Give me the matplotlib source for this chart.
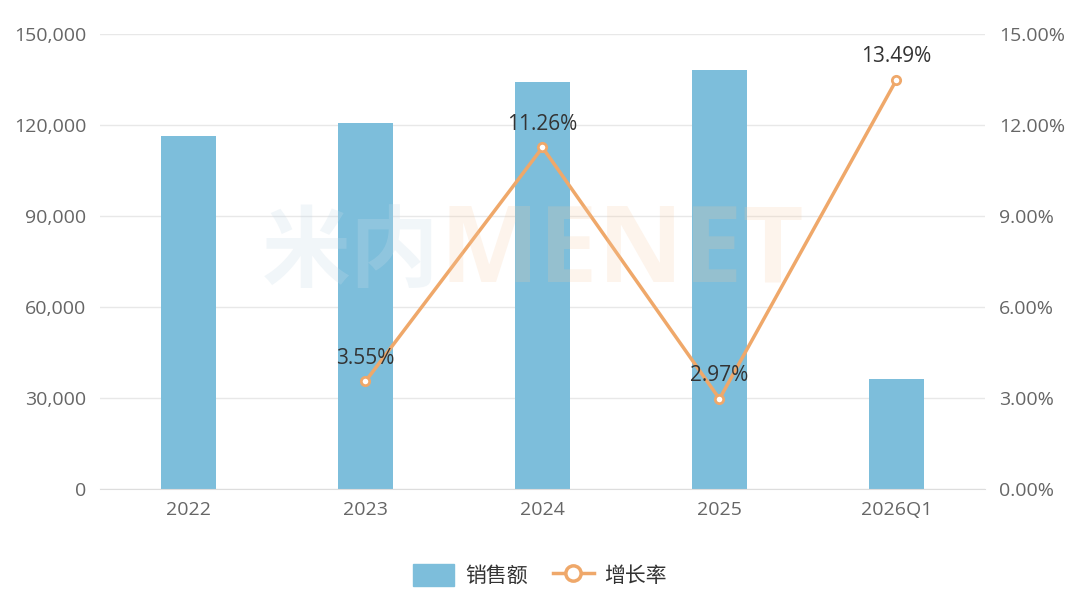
import numpy as np
import matplotlib.pyplot as plt
from matplotlib.lines import Line2D
from matplotlib.patches import Patch
from matplotlib.ticker import FuncFormatter

plt.rcParams['font.family'] = ['Open Sans', 'Noto Sans CJK SC', 'DejaVu Sans']

# data
categories = ['2022', '2023', '2024', '2025', '2026Q1']
sales = [116400, 120600, 134200, 138200, 36200]
growth = [None, 3.55, 11.26, 2.97, 13.49]

bar_color = '#7DBEDB'
line_color = '#EFA86A'
tick_color = '#666666'
grid_color = '#E8E8E8'

fig = plt.figure(figsize=(10.8, 6.01), dpi=100)
ax = fig.add_axes([0.0926, 0.1864, 0.8194, 0.757])
ax2 = ax.twinx()

x = np.arange(len(categories))
ax.bar(x, sales, width=0.31, color=bar_color, zorder=2)

ax.set_xlim(-0.5, len(categories) - 0.5)
ax.set_ylim(0, 150000)
ax.set_yticks(np.arange(0, 150001, 30000))
ax.yaxis.set_major_formatter(FuncFormatter(lambda v, p: f'{int(v):,}'))
ax.set_xticks(x)
ax.set_xticklabels(categories)
ax.grid(axis='y', color=grid_color, linewidth=1, zorder=0)
ax.set_axisbelow(True)

for a in (ax, ax2):
    for s in a.spines.values():
        s.set_visible(False)
    a.tick_params(length=0, labelsize=14, colors=tick_color)
ax.spines['bottom'].set_visible(True)
ax.spines['bottom'].set_color('#DDDDDD')
ax.tick_params(axis='x', pad=9)
ax.tick_params(axis='y', pad=10)
ax2.tick_params(axis='y', pad=10)

# growth line
gx = [i for i, g in enumerate(growth) if g is not None]
gy = [g for g in growth if g is not None]
ax2.plot(gx, gy, color=line_color, linewidth=2.5, marker='o', markersize=6,
         markerfacecolor='white', markeredgecolor=line_color, markeredgewidth=2, zorder=3)
ax2.set_ylim(0, 15)
ax2.set_yticks(np.arange(0, 15.01, 3))
ax2.yaxis.set_major_formatter(FuncFormatter(lambda v, p: f'{v:.2f}%'))
for xi, yi in zip(gx, gy):
    ax2.annotate(f'{yi:.2f}%', (xi, yi), xytext=(0, 9), textcoords='offset points',
                 ha='center', va='bottom', fontsize=15, color='#333333', zorder=4)

# watermark
fig.text(0.407, 0.578, '米内', fontsize=64, fontweight='bold', color='#C8DCE8',
         alpha=0.25, ha='right', va='center', family=['Noto Sans CJK SC'], zorder=0)
fig.text(0.407, 0.578, 'MENET', fontsize=76, fontweight='bold', color='#F7C9A0',
         alpha=0.2, ha='left', va='center', zorder=0)

handles = [Patch(facecolor=bar_color, edgecolor=bar_color),
           Line2D([0], [0], color=line_color, linewidth=2.5, marker='o', markersize=11,
                  markerfacecolor='white', markeredgewidth=2.5)]
fig.legend(handles, ['销售额', '增长率'], loc='center', bbox_to_anchor=(0.5, 0.042),
           ncol=2, frameon=False, fontsize=15, handlelength=2.0, handleheight=1.2,
           columnspacing=1.2, handletextpad=0.5, labelcolor='#333333')

fig.savefig('out.png', dpi=100)
